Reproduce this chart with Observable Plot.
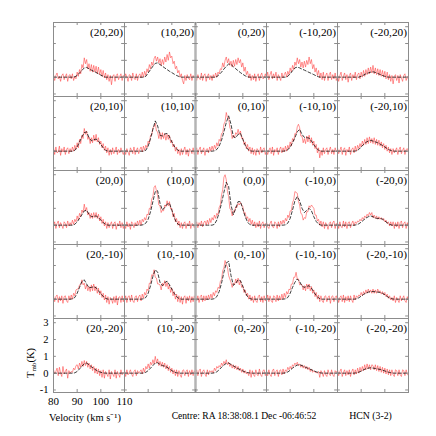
<!DOCTYPE html>
<html><head><meta charset="utf-8">
<script src="https://cdn.jsdelivr.net/npm/d3@7"></script>
<script src="https://cdn.jsdelivr.net/npm/@observablehq/plot@0.6"></script>
<style>body{margin:0;background:#fff;}</style>
</head><body><div id="chart"></div>
<script>
// Velocity channels (km/s)
const obsVelocity = [80,80.5,81,81.5,82,82.5,83,83.5,84,84.5,85,85.5,86,86.5,87,87.5,88,88.5,89,89.5,
  90,90.5,91,91.5,92,92.5,93,93.5,94,94.5,95,95.5,96,96.5,97,97.5,98,98.5,99,99.5,
  100,100.5,101,101.5,102,102.5,103,103.5,104,104.5,105,105.5,106,106.5,107,107.5,108,108.5,109,109.5,110];
const modelVelocity = [80,81,82,83,84,85,86,87,88,89,90,91,92,93,94,95,96,97,98,99,100,101,102,103,104,105,106,107,108,109,110];

const raOffsets = [20,10,0,-10,-20];
const decOffsets = [20,10,0,-10,-20];
const xTicks = [80,90,100,110];
const yTicks = [-1,0,1,2,3];
const xDomain = [80,110];
const yDomain = [-1.15,3.25];

// Observed spectra T_mb (K), one row of panels per array (RA 20 -> -20)
const obsRow0 = [
 [0.15,-0.2,0.1,0.25,-0.1,0.05,-0.25,0.1,0.2,-0.15, 0.05,0.2,-0.25,0.1,0.15,-0.1,0.2,-0.2,0.05,-0.1,
  0.3,0.05,0.45,0.2,0.75,0.55,1.15,0.8,1.05,0.5, 0.8,0.35,0.75,0.3,0.7,0.3,0.65,0.2,0.6,0.15,
  0.45,0.05,0.4,-0.05,0.25,-0.15,0.15,-0.25,0.1,-0.45, 0.05,0.15,-0.25,0.1,0.2,-0.15,0.05,0.2,-0.2,0.1, -0.05],
 [-0.15,0.2,0,-0.25,0.15,0.1,-0.2,0.25,-0.05,-0.15, 0.2,-0.2,0.1,0.2,-0.05,0.3,0,0.35,0.1,0.5,
  0.3,0.75,0.5,0.9,0.7,1.1,1.25,0.95,1.2,0.85, 1.1,0.7,1.05,0.75,1.2,0.9,1.35,1.0,1.5,1.15,
  1.25,0.8,0.95,0.5,0.65,0.25,0.4,0,0.2,-0.2, -0.4,0.1,-0.2,0.15,-0.05,-0.15,0.2,-0.2,0.1,-0.05, 0.05],
 [0.1,-0.2,0.15,-0.05,-0.15,0.25,-0.2,0.1,0.2,-0.25, 0.05,0.2,-0.15,0.1,-0.2,0.15,-0.05,0.25,0,0.3,
  0.2,0.5,0.45,0.85,0.6,1.0,1.2,0.85,1.1,0.7, 0.95,0.6,1.0,0.65,1.05,0.75,1.15,0.85,1.05,0.6,
  0.85,0.35,0.6,0.15,0.35,-0.05,0.2,-0.2,0.1,-0.15, 0.2,-0.25,0.05,0.2,-0.2,0.1,0.25,-0.1,-0.05,0.2, -0.1],
 [-0.05,0.3,-0.15,0.15,0.35,-0.1,0.2,-0.05,0.3,-0.2, 0.15,0,-0.2,0.25,-0.05,0.15,0.3,0,0.35,0.15,
  0.55,0.3,0.7,0.45,0.9,0.7,1.15,0.8,1.05,0.6, 0.9,0.55,0.95,0.6,1.0,0.75,1.2,0.8,1.05,0.5,
  0.75,0.3,0.55,0.1,0.4,-0.05,0.25,-0.15,0.3,-0.2, 0.1,0.25,-0.2,0.15,0.3,-0.15,0.15,-0.1,0.25,-0.2, 0.1],
 [0.15,-0.25,0.1,0.3,-0.2,0.05,0.25,-0.15,0.15,-0.3, 0.1,0.25,-0.2,0.15,-0.05,0.3,-0.15,0.15,0.25,-0.1,
  0.3,0,0.4,0.05,0.45,0.15,0.55,0.2,0.6,0.25, 0.7,0.2,0.55,0.15,0.5,0.1,0.45,0.05,0.4,0,
  0.35,-0.1,0.3,-0.15,0.15,-0.25,0.1,-0.4,0.05,0.15, -0.2,0.1,-0.35,0.15,-0.05,-0.25,0.1,0.2,-0.2,0.05, -0.15]
];
const obsRow1 = [
 [0.2,-0.2,0.25,-0.1,-0.05,0.3,-0.25,0.15,-0.05,0.25, -0.2,0.1,0.2,-0.15,0.15,-0.05,0.25,0,0.35,0.1,
  0.5,0.2,0.7,0.45,0.95,0.75,1.35,1.0,1.2,0.7, 0.85,0.45,0.8,0.5,0.95,0.6,1.0,0.55,0.8,0.4,
  0.6,0.2,0.45,0.05,0.3,-0.1,0.2,-0.25,0.1,-0.2, 0.2,-0.15,0.05,0.25,-0.2,0.1,-0.1,0.2,-0.05,-0.2, 0.1],
 [0.1,-0.2,0.15,-0.05,-0.25,0.2,0.05,-0.15,0.25,-0.2, 0.05,0.2,-0.15,0.1,0.25,-0.05,0.3,0.05,0.35,0.2,
  0.6,0.45,0.95,0.95,1.4,1.45,1.65,1.2,1.15,0.75, 1.1,0.7,1.1,0.75,1.05,0.65,1.0,0.7,0.95,0.5,
  0.65,0.25,0.4,0,0.25,-0.15,0.1,-0.25,0.15,-0.2, 0.05,0.25,-0.2,0.1,-0.3,0.15,0.05,-0.15,0.2,-0.2, 0.05],
 [-0.05,0.2,-0.2,0.1,0.25,-0.15,0.05,0.2,-0.25,0.1, 0.15,-0.1,0.25,0,0.3,0.05,0.35,0.15,0.5,0.3,
  0.7,0.6,1.05,1.1,1.6,1.75,2.3,2.0,2.0,1.4, 1.25,0.75,0.95,0.8,1.1,1.0,1.3,1.0,1.2,0.75,
  0.8,0.4,0.55,0.15,0.4,0,0.25,-0.15,0.2,-0.2, 0.1,-0.25,0.15,0.05,-0.2,0.25,-0.1,0.1,0.2,-0.2, 0.05],
 [0.1,-0.2,0.05,0.2,-0.15,0.25,-0.25,0.1,-0.05,0.2, -0.2,0.1,0.25,-0.1,0.2,-0.05,0.3,0,0.35,0.15,
  0.55,0.3,0.75,0.6,1.05,1.0,1.45,1.6,1.4,0.9, 0.9,0.5,0.75,0.45,0.9,0.55,0.95,0.5,0.8,0.35,
  0.6,0.15,0.4,-0.1,0.2,-0.4,0.05,-0.25,0.2,-0.15, 0.1,0.2,-0.2,0.05,0.25,-0.15,0.1,-0.2,0.2,-0.05, 0.1],
 [0.2,-0.15,0.05,0.25,-0.2,0.1,0.2,-0.25,0.1,-0.05, 0.25,-0.2,0.1,0.2,-0.1,0.3,0,0.35,0.15,0.45,
  0.25,0.6,0.35,0.7,0.4,0.8,0.45,0.85,0.5,0.75, 0.45,0.8,0.4,0.7,0.35,0.65,0.3,0.55,0.2,0.45,
  0.1,0.35,0,0.25,-0.1,0.15,-0.2,0.15,-0.1,0.05, 0.2,-0.2,0.1,0.25,-0.15,0.05,0.2,-0.2,0.1,0.15, -0.05]
];
const obsRow2 = [
 [-0.05,0.2,-0.2,0.1,0.25,-0.15,0.15,0,-0.2,0.2, 0.1,-0.15,0.25,-0.05,0.15,0,0.3,0.05,0.35,0.2,
  0.55,0.3,0.7,0.5,0.9,0.75,1.25,0.85,1.05,0.6, 0.75,0.4,0.7,0.4,0.75,0.45,0.75,0.4,0.65,0.25,
  0.5,0.1,0.35,-0.05,0.2,-0.2,0.15,-0.15,0.05,0.2, -0.2,0.1,0.2,-0.25,0.1,-0.05,0.25,-0.15,0.15,-0.2, 0.1],
 [0.1,-0.2,0.2,-0.1,0.1,-0.25,0.2,0.1,-0.15,0.15, -0.05,0.25,0,0.3,0,0.35,0.2,0.45,0.3,0.65,
  0.6,1.0,1.0,1.55,1.7,2.25,2.35,2.05,1.75,1.2, 1.15,0.75,0.9,0.85,1.2,1.1,1.45,1.15,1.4,0.95,
  1.0,0.5,0.7,0.2,0.4,0,0.25,-0.15,0.15,-0.2, 0.1,0.2,-0.2,0.1,-0.05,0.25,-0.2,0.1,0.05,-0.15, 0.15],
 [-0.1,0.2,-0.15,0.15,-0.05,0.25,-0.1,0.15,0.25,0, 0.3,0.05,0.4,0.15,0.45,0.3,0.6,0.4,0.7,0.6,
  1.05,1.2,1.8,2.1,2.85,3.0,2.7,2.0,1.7,1.0, 0.9,0.55,0.85,0.8,1.1,1.05,1.3,1.2,1.35,1.2,
  1.1,0.7,0.75,0.4,0.5,0.2,0.4,0.05,0.3,-0.05, 0.2,-0.15,0.15,-0.1,0.25,-0.2,0.1,0.2,-0.15,0.1, -0.05],
 [0.2,-0.1,-0.2,0.1,0.25,-0.1,-0.15,0.2,0.1,-0.2, 0.2,-0.1,0.25,0.05,0.3,0.1,0.4,0.25,0.6,0.45,
  0.85,0.85,1.35,1.5,2.0,1.95,1.9,1.4,1.2,0.7, 0.65,0.3,0.45,0.4,0.8,0.8,1.15,1.05,1.2,1.1,
  1.0,0.6,0.6,0.25,0.35,0,0.25,-0.1,0.2,-0.2, 0.15,0,-0.25,0.1,0.2,-0.15,0.15,0.25,-0.2,0.1, -0.05],
 [0.15,-0.2,0.2,-0.1,-0.15,0.25,-0.1,0.2,-0.2,0.15, 0.2,-0.15,0.1,0.25,-0.05,0.2,0.1,0.25,0.2,0.35,
  0.25,0.45,0.35,0.55,0.45,0.65,0.55,0.75,0.6,0.75, 0.45,0.6,0.4,0.55,0.35,0.5,0.35,0.45,0.3,0.4,
  0.2,0.3,0.1,0.2,-0.05,0.2,-0.05,0.2,-0.2,0.15, -0.1,0.2,-0.2,0.15,0.25,-0.15,0.1,0.2,-0.2,0.15, -0.1]
];
const obsRow3 = [
 [0.2,-0.15,0.15,0.25,-0.2,0.15,-0.1,0.2,-0.25,0.15, 0.2,-0.1,-0.2,0.2,-0.05,0.25,0,0.35,0.2,0.55,
  0.6,0.6,0.85,0.85,1.15,0.85,0.95,0.6,0.85,0.5, 0.75,0.45,0.85,0.5,0.9,0.5,0.75,0.35,0.65,0.25,
  0.5,0.1,0.35,-0.05,0.25,-0.2,0.15,-0.3,0.1,0, -0.25,0.15,-0.2,0.2,-0.35,0.1,0.15,-0.2,0.2,-0.15, 0.1],
 [-0.1,0.2,-0.2,0.15,0.2,-0.15,0.25,-0.1,-0.2,0.15, 0.2,-0.15,0.15,0.25,-0.1,0.3,0.05,0.4,0.25,0.6,
  0.5,0.95,0.95,1.45,1.4,1.75,1.3,1.25,0.9,0.9, 0.85,0.55,0.95,0.8,1.1,0.75,1.0,0.6,0.85,0.4,
  0.65,0.2,0.45,0,0.3,-0.15,0.2,-0.2,0.15,-0.3, 0.1,0.2,-0.25,0.15,-0.1,0.2,-0.2,0.15,-0.15,0.2, -0.05],
 [0.15,-0.1,0.2,-0.2,0.15,0.25,-0.15,0.2,-0.1,0.2, -0.05,0.25,0,0.3,0.05,0.4,0.2,0.5,0.4,0.7,
  0.65,1.05,1.15,1.7,1.85,2.3,2.05,1.9,1.4,1.2, 1.0,0.7,0.95,0.85,1.2,0.95,1.25,0.85,1.1,0.7,
  0.8,0.4,0.55,0.2,0.35,0,0.25,-0.1,0.15,-0.2, 0.2,-0.1,-0.2,0.15,0.25,-0.15,0.15,-0.2,0.2,-0.1, 0.1],
 [-0.1,0.25,-0.15,0.2,-0.1,-0.2,0.2,0.15,-0.15,0.25, -0.1,0.2,-0.05,0.3,0,0.35,0.1,0.45,0.3,0.6,
  0.55,0.9,0.9,1.3,1.3,1.6,1.2,1.2,0.85,0.9, 0.85,0.55,0.8,0.5,0.9,0.6,0.9,0.5,0.75,0.35,
  0.55,0.15,0.4,0,0.25,-0.15,0.2,-0.1,-0.2,0.15, 0.2,-0.15,0.1,0.2,-0.25,0.15,0.2,-0.15,0.1,0.2, -0.15],
 [0.15,-0.2,0.1,0.2,-0.15,0.25,-0.2,0.15,-0.1,0.2, -0.15,0.2,-0.05,-0.2,0.25,-0.05,0.2,0.1,0.25,0.2,
  0.4,0.2,0.45,0.3,0.55,0.35,0.6,0.4,0.55,0.35, 0.6,0.35,0.55,0.35,0.6,0.4,0.5,0.3,0.45,0.25,
  0.4,0.15,0.3,0.05,0.2,-0.05,0.1,-0.1,0.2,-0.2, 0.1,-0.05,-0.2,0.2,-0.1,0.05,0.2,-0.1,-0.2,0.15, -0.05]
];
const obsRow4 = [
 [0.2,-0.05,0.1,0.3,-0.15,0.35,0,-0.2,0.4,-0.05, 0.1,0.25,-0.3,0.15,0,0.1,0.05,0.3,0.2,0.45,
  0.5,0.25,0.6,0.35,0.7,0.4,0.75,0.45,0.7,0.35, 0.6,0.25,0.5,0.15,0.4,0,0.3,-0.05,0.25,-0.15,
  0.15,-0.25,0.2,-0.3,0.1,-0.05,-0.2,0.2,-0.35,0.1, -0.05,-0.2,0.2,-0.3,0.1,-0.05,-0.25,0.2,-0.1,0.05, -0.05],
 [0.15,-0.2,0.2,-0.1,0.05,0.2,-0.05,-0.2,0.1,0.2, -0.15,0.15,0,0.1,0.2,-0.05,0.3,0.05,0.4,0.25,
  0.55,0.3,0.65,0.5,0.8,0.55,1.0,0.6,0.85,0.45, 0.7,0.4,0.65,0.35,0.6,0.25,0.5,0.15,0.4,0.05,
  0.3,-0.05,0.2,-0.15,0.2,-0.2,0.15,-0.1,-0.25,0.15, 0.2,-0.15,0.1,0.2,-0.2,0.15,-0.1,0.2,-0.15,0.15, -0.05],
 [-0.1,0.2,-0.15,0.15,0.25,-0.2,0.1,0.2,-0.05,-0.2, 0.2,-0.1,0.15,0.05,0.15,0,0.3,0.15,0.4,0.3,
  0.45,0.35,0.6,0.45,0.7,0.55,0.8,0.5,0.65,0.4, 0.55,0.3,0.5,0.25,0.45,0.2,0.4,0.15,0.3,0.05,
  0.25,0,0.15,-0.05,0.05,-0.15,0.2,-0.25,0.15,-0.1, -0.2,0.2,-0.1,-0.15,0.25,-0.1,-0.2,0.15,0.2,-0.15, 0.1],
 [0.15,-0.15,0.2,-0.1,-0.2,0.15,0.25,-0.15,0.1,0.2, -0.2,0.15,0.2,-0.1,0.25,-0.05,0.2,0.1,0.35,0.2,
  0.4,0.25,0.5,0.4,0.6,0.5,0.65,0.45,0.55,0.35, 0.5,0.3,0.45,0.25,0.4,0.2,0.35,0.1,0.25,0.05,
  0.15,0.05,0.05,0,0.1,-0.25,0.15,0,-0.2,0.15, -0.1,-0.2,0.2,-0.05,-0.15,0.2,-0.1,-0.2,0.15,0.05, 0.15],
 [0.2,-0.15,0.1,0.25,-0.2,0.05,0.2,-0.15,0.15,-0.1, 0.2,-0.2,0.1,0.25,-0.1,0.2,-0.05,0.3,0,0.35,
  0.1,0.4,0.15,0.5,0.2,0.55,0.25,0.5,0.2,0.5, 0.45,0.2,0.5,0.15,0.45,0.1,0.4,0.05,0.35,0,
  0.3,-0.05,0.25,-0.1,0.2,-0.15,0.2,-0.1,-0.2,0.2, 0.15,-0.15,0.2,-0.1,-0.2,0.2,0.15,-0.15,0.2,-0.05, -0.15]
];

// Model (dashed) spectra T_mb (K), sampled every 1 km/s
const modelRow0 = [
 [0,0,0,0,0,0,0,0,0,0.02, 0.1,0.25,0.4,0.55,0.58,0.5,0.42,0.35,0.28,0.2, 0.12,0.05,0,0,0,0,0,0,0,0,0],
 [0,0,0,0,0,0,0,0,0,0.05, 0.25,0.45,0.65,0.82,0.85,0.75,0.65,0.55,0.45,0.35, 0.27,0.18,0.1,0.04,0,0,0,0,0,0,0],
 [0,0,0,0,0,0,0,0,0,0.03, 0.15,0.3,0.48,0.65,0.78,0.75,0.62,0.5,0.38,0.27, 0.17,0.08,0.02,0,0,0,0,0,0,0,0],
 [0,0,0,0,0,0,0,0,0,0.05, 0.2,0.38,0.55,0.6,0.55,0.48,0.42,0.35,0.28,0.22, 0.15,0.08,0.02,0,0,0,0,0,0,0,0],
 [0,0,0,0,0,0,0,0,0,0, 0.05,0.12,0.2,0.25,0.3,0.32,0.28,0.22,0.16,0.1, 0.05,0.01,0,0,0,0,0,0,0,0,0]
];
const modelRow1 = [
 [0,0,0,0,0,0,0,0,0,0.05, 0.25,0.55,0.85,1.1,1.15,0.8,0.62,0.68,0.72,0.6, 0.4,0.2,0.05,0,0,0,0,0,0,0,0],
 [0,0,0,0,0,0,0,0,0,0.05, 0.3,0.75,1.3,1.8,1.5,0.95,0.9,1.02,1.05,0.85, 0.55,0.3,0.12,0.02,0,0,0,0,0,0,0],
 [0,0,0,0,0,0,0,0,0.02,0.1, 0.3,0.65,1.15,1.7,2.1,1.6,0.85,0.8,1.0,1.05, 0.7,0.35,0.12,0.02,0,0,0,0,0,0,0],
 [0,0,0,0,0,0,0,0,0.02,0.08, 0.25,0.5,0.8,1.15,1.3,1.0,0.82,0.8,0.78,0.6, 0.38,0.18,0.06,0,0,0,0,0,0,0,0],
 [0,0,0,0,0,0,0,0,0.02,0.1, 0.25,0.4,0.52,0.6,0.64,0.6,0.55,0.5,0.42,0.34, 0.25,0.15,0.07,0.02,0,0,0,0,0,0,0]
];
const modelRow2 = [
 [0,0,0,0,0,0,0,0,0,0.05, 0.2,0.4,0.62,0.85,0.88,0.65,0.5,0.52,0.55,0.45, 0.3,0.15,0.05,0,0,0,0,0,0,0,0],
 [0,0,0,0,0,0,0,0,0.03,0.12, 0.35,0.8,1.4,2.0,2.05,1.3,0.9,1.05,1.25,1.3, 0.9,0.45,0.15,0.02,0,0,0,0,0,0,0],
 [0,0,0,0,0,0,0,0,0.05,0.3, 0.75,1.3,1.95,2.55,2.3,1.2,0.62,1.0,1.4,1.4, 0.95,0.5,0.18,0.03,0,0,0,0,0,0,0],
 [0,0,0,0,0,0,0,0,0.02,0.12, 0.4,0.9,1.45,1.7,1.45,1.0,0.75,0.88,1.0,0.85, 0.5,0.22,0.06,0,0,0,0,0,0,0,0],
 [0,0,0,0,0,0,0,0,0.02,0.08, 0.18,0.3,0.42,0.5,0.55,0.5,0.42,0.4,0.4,0.36, 0.25,0.14,0.05,0,0,0,0,0,0,0,0]
];
const modelRow3 = [
 [0,0,0,0,0,0,0,0,0.02,0.1, 0.35,0.7,1.05,1.15,0.9,0.68,0.7,0.74,0.68,0.5, 0.32,0.16,0.05,0,0,0,0,0,0,0,0],
 [0,0,0,0,0,0,0,0,0.02,0.1, 0.35,0.8,1.35,1.75,1.6,1.0,0.8,0.98,1.07,0.85, 0.6,0.35,0.15,0.04,0,0,0,0,0,0,0],
 [0,0,0,0,0,0,0,0,0.03,0.15, 0.45,0.95,1.6,2.15,2.25,1.4,0.82,0.95,1.15,1.1, 0.75,0.4,0.15,0.03,0,0,0,0,0,0,0],
 [0,0,0,0,0,0,0,0,0.02,0.1, 0.35,0.7,1.0,1.2,1.05,0.78,0.7,0.76,0.8,0.65, 0.42,0.22,0.07,0,0,0,0,0,0,0,0],
 [0,0,0,0,0,0,0,0,0.02,0.08, 0.18,0.28,0.36,0.42,0.45,0.45,0.44,0.42,0.4,0.35, 0.26,0.16,0.07,0.02,0,0,0,0,0,0,0]
];
const modelRow4 = [
 [0,0,0,0,0,0,0,0,0,0.02, 0.1,0.25,0.42,0.55,0.6,0.5,0.38,0.28,0.18,0.1, 0.05,0.01,0,0,0,0,0,0,0,0,0],
 [0,0,0,0,0,0,0,0,0.01,0.05, 0.15,0.3,0.45,0.6,0.62,0.52,0.45,0.42,0.35,0.25, 0.15,0.07,0.02,0,0,0,0,0,0,0,0],
 [0,0,0,0,0,0,0,0,0.02,0.08, 0.2,0.35,0.48,0.58,0.6,0.52,0.43,0.35,0.27,0.2, 0.13,0.07,0.03,0.01,0,0,0,0,0,0,0],
 [0,0,0,0,0,0,0,0,0.02,0.07, 0.17,0.3,0.4,0.48,0.5,0.45,0.38,0.32,0.26,0.2, 0.14,0.08,0.04,0.01,0,0,0,0,0,0,0],
 [0,0,0,0,0,0,0,0,0.02,0.06, 0.12,0.2,0.26,0.3,0.32,0.3,0.28,0.25,0.22,0.18, 0.13,0.08,0.04,0.01,0,0,0,0,0,0,0]
];

const footerCentre = "Centre: RA 18:38:08.1 Dec -06:46:52";
const footerLine = "HCN (3-2)";
const xAxisTitle = "Velocity (km s\u207B\u00B9)";

// ---- build tables ----
const obsRows = [obsRow0, obsRow1, obsRow2, obsRow3, obsRow4];
const modelRows = [modelRow0, modelRow1, modelRow2, modelRow3, modelRow4];
const obsData = [], modelData = [], panels = [];
obsRows.forEach((row, r) => row.forEach((vals, c) => vals.forEach((t, i) =>
  obsData.push({row: r, col: c, v: obsVelocity[i], t}))));
modelRows.forEach((row, r) => row.forEach((vals, c) => vals.forEach((t, i) =>
  modelData.push({row: r, col: c, v: modelVelocity[i], t}))));
decOffsets.forEach((dec, r) => raOffsets.forEach((ra, c) =>
  panels.push({row: r, col: c, label: `(${ra},${dec})`})));
const lastRow = decOffsets.length - 1, lastCol = raOffsets.length - 1;
const yLabelData = yTicks.map(t => ({row: lastRow, col: 0, t}));
const xLabelData = xTicks.map(v => ({row: lastRow, col: 0, v}));
const grayEdge = decOffsets.map((d, r) => ({row: r, col: 2}));

const gridStroke = "#8c8c8c";
const font = "'Liberation Serif', 'Times New Roman', serif";

const plot = Plot.plot({
  width: 436, height: 436,
  marginLeft: 51, marginRight: 26, marginTop: 20, marginBottom: 42,
  x: {domain: xDomain, axis: null},
  y: {domain: yDomain, axis: null},
  fx: {domain: raOffsets.map((d, i) => i), padding: 0, axis: null},
  fy: {domain: decOffsets.map((d, i) => i), padding: 0, axis: null},
  style: {fontFamily: font, background: "#fff", color: "#000"},
  marks: [
    Plot.line(obsData, {x: "v", y: "t", fx: "col", fy: "row", z: null, stroke: "#ff3c3c", strokeWidth: 0.65, strokeOpacity: 0.85}),
    Plot.line(modelData, {x: "v", y: "t", fx: "col", fy: "row", z: null, stroke: "#000", strokeWidth: 0.75, strokeDasharray: "3,2.2"}),
    Plot.frame({stroke: gridStroke, strokeWidth: 1}),
    Plot.ruleX(grayEdge, {x: () => xDomain[0], fx: "col", fy: "row", stroke: "#b4b4b4", strokeWidth: 2.5}),
    Plot.ruleY(yTicks, {y: d => d, x1: xDomain[0], x2: xDomain[0] + 1.2, stroke: gridStroke}),
    Plot.ruleY(yTicks, {y: d => d, x1: xDomain[1] - 1.2, x2: xDomain[1], stroke: gridStroke}),
    Plot.ruleX(xTicks, {x: d => d, y1: yDomain[0], y2: yDomain[0] + 0.18, stroke: gridStroke}),
    Plot.ruleX(xTicks, {x: d => d, y1: yDomain[1] - 0.18, y2: yDomain[1], stroke: gridStroke}),
    Plot.text(panels, {fx: "col", fy: "row", text: "label", frameAnchor: "top-right", lineAnchor: "middle", textAnchor: "end", dx: -1.5, dy: 10, fontSize: 11.3, fill: "#000"}),
    Plot.text(yLabelData, {fx: "col", fy: "row", y: "t", text: d => String(d.t), frameAnchor: "left", textAnchor: "end", dx: -5, fontSize: 10.5, fill: "#000"}),
    Plot.text(xLabelData, {fx: "col", fy: "row", x: "v", text: d => String(d.v), frameAnchor: "bottom", lineAnchor: "middle", dy: 9, fontSize: 11, fill: "#000"}),
    Plot.text([{row: lastRow, col: 0}], {fx: "col", fy: "row", text: () => xAxisTitle, frameAnchor: "bottom", lineAnchor: "middle", dx: -4, dy: 25, fontSize: 10.5, fill: "#000"}),
    Plot.text([{row: lastRow, col: 2}], {fx: "col", fy: "row", text: () => footerCentre, frameAnchor: "bottom", lineAnchor: "middle", dx: 13, dy: 23, fontSize: 9.6, fill: "#000"}),
    Plot.text([{row: lastRow, col: lastCol}], {fx: "col", fy: "row", text: () => footerLine, frameAnchor: "bottom", lineAnchor: "middle", dx: -2.5, dy: 23, fontSize: 9.8, fill: "#000"})
  ]
});

// y-axis title with subscript
const svg = d3.select(plot);
const yt = svg.append("text")
  .attr("transform", "translate(33.5,363) rotate(-90)")
  .attr("text-anchor", "middle")
  .attr("font-family", font)
  .attr("font-size", 10.5)
  .attr("fill", "#000");
yt.append("tspan").text("T");
yt.append("tspan").attr("font-size", 7).attr("dy", 2.5).text("mb");
yt.append("tspan").attr("dy", -2.5).text("(K)");

document.getElementById("chart").appendChild(plot);
</script>
</body></html>
